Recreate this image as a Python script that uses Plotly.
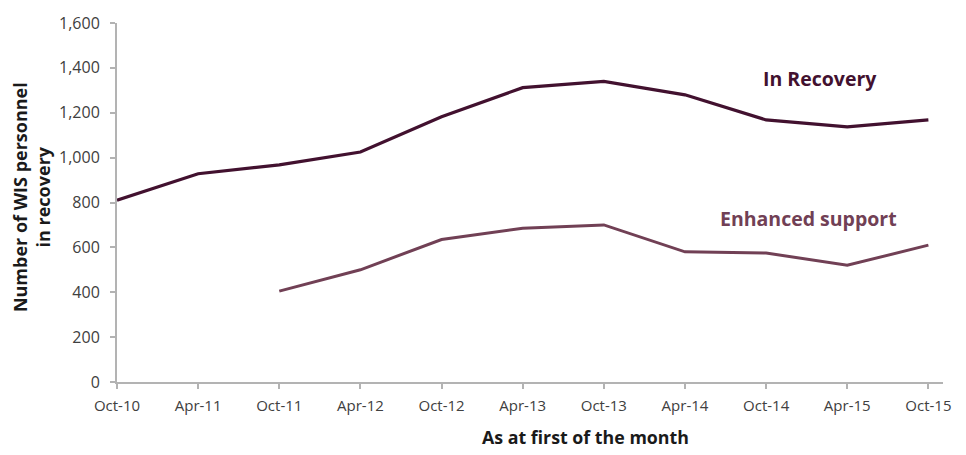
import plotly.graph_objects as go

months = ["Oct-10", "Apr-11", "Oct-11", "Apr-12", "Oct-12", "Apr-13",
          "Oct-13", "Apr-14", "Oct-14", "Apr-15", "Oct-15"]
in_recovery = [810, 928, 968, 1025, 1182, 1312, 1340, 1280, 1168, 1137, 1168]
enhanced_support = [None, None, 405, 500, 635, 685, 700, 580, 575, 520, 610]
y_ticks = [0, 200, 400, 600, 800, 1000, 1200, 1400, 1600]

recovery_color = "#42112f"
enhanced_color = "#714055"
axis_color = "#b3b3b3"
font_family = "'Open Sans', Lato, sans-serif"

fig = go.Figure()
fig.add_trace(go.Scatter(
    x=months, y=in_recovery, mode="lines", name="In Recovery",
    line=dict(color=recovery_color, width=3.2),
))
fig.add_trace(go.Scatter(
    x=months, y=enhanced_support, mode="lines", name="Enhanced support",
    line=dict(color=enhanced_color, width=3.0),
))

# series labels next to their lines
fig.add_annotation(x=8.66, y=1352, xref="x", yref="y", text="<b>In Recovery</b>",
                   showarrow=False, font=dict(family=font_family, size=19.5, color=recovery_color))
fig.add_annotation(x=8.52, y=730, xref="x", yref="y", text="<b>Enhanced support</b>",
                   showarrow=False, font=dict(family=font_family, size=19.5, color=enhanced_color))

# axis titles as paper-positioned annotations
plot_w = 966 - 117 - 23
plot_h = 382 - 15
fig.add_annotation(x=(585 - 117) / plot_w, y=-(438 - 382) / plot_h, xref="paper", yref="paper",
                   text="<b>As at first of the month</b>", showarrow=False,
                   xanchor="center", yanchor="middle",
                   font=dict(family=font_family, size=17.8, color="#1a1a1a"))
fig.add_annotation(x=(31 - 117) / plot_w, y=(382 - 193) / plot_h, xref="paper", yref="paper",
                   text="<b>Number of WIS personnel<br>in recovery</b>", showarrow=False,
                   textangle=-90, xanchor="center", yanchor="middle",
                   font=dict(family=font_family, size=18, color="#1a1a1a"))

fig.update_layout(
    width=966, height=455,
    margin=dict(l=117, r=23, t=15, b=73),
    paper_bgcolor="white", plot_bgcolor="white",
    showlegend=False,
    font=dict(family=font_family, size=15, color="#404040"),
)

fig.update_xaxes(
    type="category", range=[0, 10.18],
    showline=True, linecolor=axis_color, linewidth=2,
    ticks="outside", ticklen=5, tickcolor=axis_color, tickwidth=2,
    ticklabelstandoff=4,
    showgrid=False, zeroline=False,
    tickfont=dict(family=font_family, size=15, color="#404040"),
)
fig.update_yaxes(
    range=[0, 1600], tickvals=y_ticks,
    tickformat=",d",
    showline=True, linecolor=axis_color, linewidth=2,
    ticks="outside", ticklen=5, tickcolor=axis_color, tickwidth=2,
    ticklabelstandoff=7,
    showgrid=False, zeroline=False,
    tickfont=dict(family=font_family, size=16, color="#404040"),
)

fig.write_html("out.html")
